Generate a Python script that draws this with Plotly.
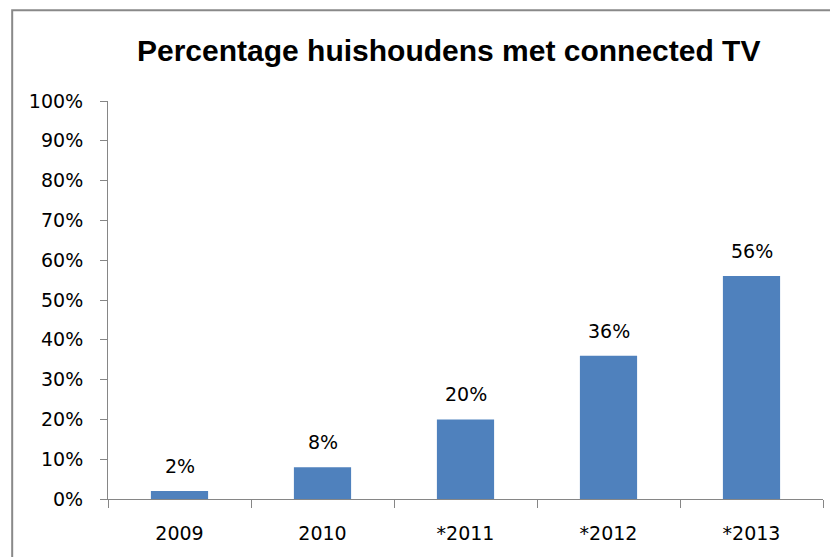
import plotly.graph_objects as go

# data
years = ["2009", "2010", "*2011", "*2012", "*2013"]
share = [0.02, 0.08, 0.20, 0.36, 0.56]

TITLE = "Percentage huishoudens met connected TV"
BAR = "#4F81BD"
AXIS = "#868686"
FONT = "DejaVu Sans"

fig = go.Figure(go.Bar(x=years, y=share, marker=dict(color=BAR, line=dict(width=0)),
                       hoverinfo="skip"))

# value labels above the bars (x as category index: "2009" would be read as a number)
for i, y in enumerate(share):
    fig.add_annotation(x=i, y=y, text=f"{y:.0%}", showarrow=False,
                       yanchor="middle", yshift=25,
                       font=dict(family=FONT, size=19, color="#000"))

# page has an 8px body margin, so the figure is a bit smaller than the window
fig.update_layout(
    width=830, height=549,
    margin=dict(l=100, r=15, t=93, b=58, autoexpand=False),
    paper_bgcolor="white", plot_bgcolor="white",
    bargap=0.6, showlegend=False,
    title=dict(text=f"<b>{TITLE}</b>", x=0.531, xanchor="center",
               y=0.9226, yanchor="middle",
               font=dict(family="Liberation Sans", size=30, color="#000")),
    font=dict(family=FONT, size=19, color="#000"),
)
fig.update_yaxes(range=[0, 1], dtick=0.1, tickformat=".0%", showgrid=False,
                 zeroline=False, showline=True, linecolor=AXIS, linewidth=1,
                 ticks="outside", ticklen=7, tickcolor=AXIS, tickwidth=1,
                 ticklabelstandoff=13, automargin=False)
fig.update_xaxes(type="category", categoryorder="array", categoryarray=years,
                 range=[-0.5, len(years) - 0.5], showgrid=False, showline=True,
                 linecolor=AXIS, linewidth=1, ticks="outside", ticklen=8,
                 tickcolor=AXIS, tickwidth=1, tickangle=0,
                 tickson="boundaries", ticklabelstandoff=17, automargin=False)

# chart border like the excel chart area
fig.add_shape(type="rect", xref="paper", yref="paper",
              x0=-0.134, x1=1.1, y0=-0.3, y1=1.228,
              line=dict(color="#898989", width=2), layer="below")

fig.write_html("out.html")
